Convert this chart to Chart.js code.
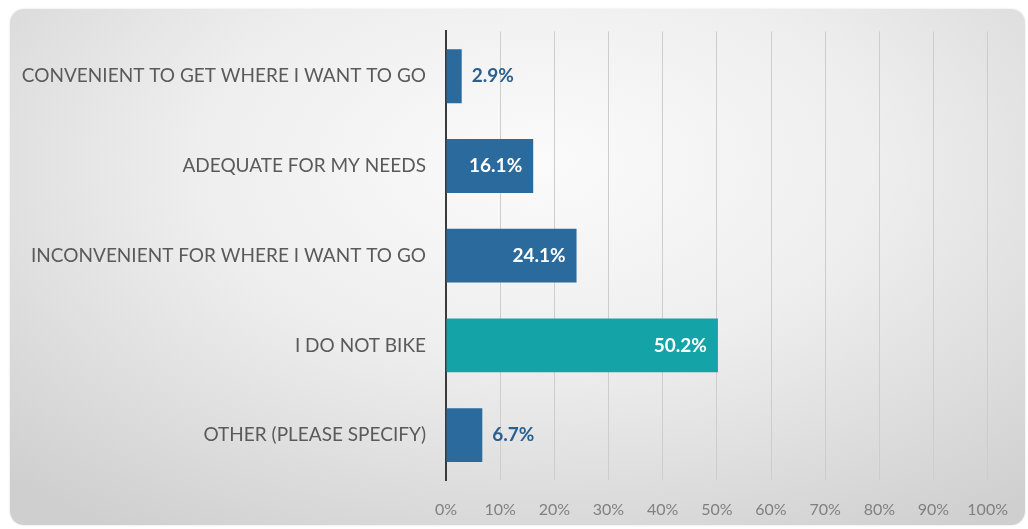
<!DOCTYPE html>
<html>
<head>
<meta charset="utf-8">
<script src="https://cdn.jsdelivr.net/npm/chart.js@4"></script>
<style>
    html, body { margin: 0; padding: 0; background: #ffffff; }
    #panel {
        position: absolute; left: 10px; top: 9px; width: 1015px; height: 516px;
        border-radius: 14px;
        background: radial-gradient(ellipse 75% 85% at 52% 30%, #fbfbfb 0%, #eeeeee 45%, #cfcfcf 100%);
        box-shadow: 0 0 2px rgba(0,0,0,0.15);
    }
    #wrap { position: absolute; left: 0; top: 0; width: 1028px; height: 529px; }
</style>
</head>
<body>
<div id="panel"></div>
<div id="wrap"><canvas id="bikeChart" width="1028" height="529"></canvas></div>
<script>
const categories = [
    'CONVENIENT TO GET WHERE I WANT TO GO',
    'ADEQUATE FOR MY NEEDS',
    'INCONVENIENT FOR WHERE I WANT TO GO',
    'I DO NOT BIKE',
    'OTHER (PLEASE SPECIFY)'
];
const percentValues = [2.9, 16.1, 24.1, 50.2, 6.7];
const barColors = ['#2B6A9C', '#2B6A9C', '#2B6A9C', '#14A3A6', '#2B6A9C'];
const tickValues = [0, 10, 20, 30, 40, 50, 60, 70, 80, 90, 100];

// Werte-Beschriftung an den Balken
const valueLabels = {
    id: 'valueLabels',
    afterDatasetsDraw(chart) {
        const ctx = chart.ctx;
        const meta = chart.getDatasetMeta(0);
        ctx.save();
        ctx.font = 'bold 19px Lato, "Open Sans", sans-serif';
        ctx.textBaseline = 'middle';
        meta.data.forEach((bar, i) => {
            const text = percentValues[i].toFixed(1) + '%';
            const w = bar.x - bar.base;
            if (w > 60) {
                ctx.fillStyle = '#ffffff';
                ctx.textAlign = 'right';
                ctx.fillText(text, bar.x - 11, bar.y);
            } else {
                ctx.fillStyle = '#2A5F8E';
                ctx.textAlign = 'left';
                ctx.fillText(text, bar.x + 10, bar.y);
            }
        });
        ctx.restore();
    }
};

new Chart(document.getElementById('bikeChart').getContext('2d'), {
    type: 'bar',
    data: {
        labels: categories,
        datasets: [{
            data: percentValues,
            backgroundColor: barColors,
            borderWidth: 0,
            categoryPercentage: 0.6,
            barPercentage: 1.0
        }]
    },
    options: {
        indexAxis: 'y',
        responsive: false,
        animation: false,
        layout: { padding: { top: 29, right: 38, bottom: 0, left: 0 } },
        plugins: {
            legend: { display: false },
            tooltip: { enabled: false }
        },
        scales: {
            x: {
                min: 0,
                max: 100,
                afterBuildTicks: scale => {
                    scale.ticks = tickValues.map(v => ({ value: v }));
                },
                afterFit: scale => { scale.height = 49; },
                grid: { color: '#cdcdcd', lineWidth: 1, drawTicks: false },
                border: { display: false },
                ticks: {
                    padding: 20,
                    color: '#808080',
                    font: { family: 'Lato, "Open Sans", sans-serif', size: 16 },
                    callback: v => v + '%'
                }
            },
            y: {
                afterFit: scale => { scale.width = 446; },
                grid: { display: false, drawTicks: false },
                border: { display: true, color: '#3a3a3a', width: 2 },
                ticks: {
                    padding: 20,
                    color: '#5a5a5a',
                    font: { family: 'Lato, "Open Sans", sans-serif', size: 19 }
                }
            }
        }
    },
    plugins: [valueLabels]
});
</script>
</body>
</html>
